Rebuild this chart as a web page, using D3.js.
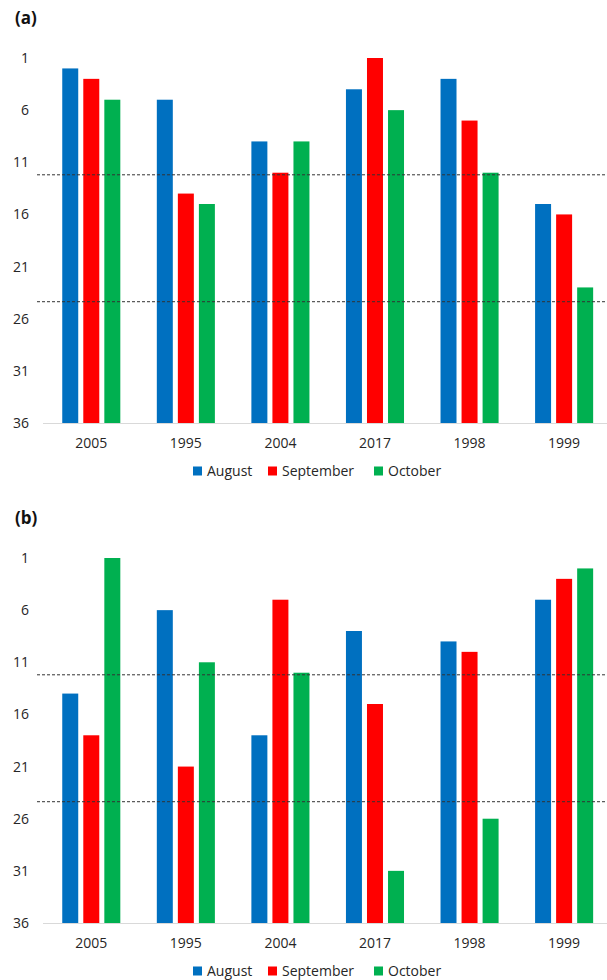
<!DOCTYPE html>
<html>
<head>
<meta charset="utf-8">
<script src="https://cdn.jsdelivr.net/npm/d3@7"></script>
<style>
  html, body { margin: 0; padding: 0; background: #fff; }
  svg { display: block; font-family: "Open Sans", "DejaVu Sans", sans-serif; }
</style>
</head>
<body>
<svg id="chart" width="607" height="980"></svg>
<script>
// ---- Data ----
const years = ["2005", "1995", "2004", "2017", "1998", "1999"];
const series = ["August", "September", "October"];
const colors = ["#0070C0", "#FF0000", "#00B050"];
const yTicks = [1, 6, 11, 16, 21, 26, 31, 36];
const thresholds = [12.2, 24.37];

// panel (a) ranks
const aAugust    = [2, 5, 9, 4, 3, 15];
const aSeptember = [3, 14, 12, 1, 7, 16];
const aOctober   = [5, 15, 9, 6, 12, 23];
// panel (b) ranks
const bAugust    = [14, 6, 18, 8, 9, 5];
const bSeptember = [18, 21, 5, 15, 10, 3];
const bOctober   = [1, 11, 12, 31, 26, 2];

const panels = [
  { label: "(a)", values: [aAugust, aSeptember, aOctober], top: 0 },
  { label: "(b)", values: [bAugust, bSeptember, bOctober], top: 500 }
];

// ---- Drawing ----
const svg = d3.select("#chart");
const textColor = "#262626";

const x0 = d3.scaleBand().domain(years).range([44, 611.4]).paddingInner(0.386).paddingOuter(0.193);
const x1 = d3.scaleBand().domain(series).range([0, x0.bandwidth()]).paddingInner(0.24).paddingOuter(0);
const color = d3.scaleOrdinal().domain(series).range(colors);

panels.forEach(p => {
  const g = svg.append("g").attr("transform", `translate(0,${p.top})`);
  const y = d3.scaleLinear().domain([1, 36]).range([58, 423]);

  // panel label
  g.append("text").attr("x", 15).attr("y", 24)
    .attr("font-size", 17).attr("font-weight", "bold").attr("fill", "#111")
    .text(p.label);

  // y axis labels (no line)
  const yAxis = d3.axisLeft(y).tickValues(yTicks).tickSize(0).tickPadding(0);
  const ya = g.append("g").attr("transform", "translate(29,0)").call(yAxis);
  ya.select(".domain").remove();
  ya.selectAll("text").attr("font-size", 14).attr("fill", textColor)
    .attr("font-family", "'Open Sans', sans-serif");

  // bars
  const rows = years.map((yr, i) => ({ year: yr, vals: series.map((s, j) => ({ s, v: p.values[j][i] })) }));
  const grp = g.selectAll(".grp").data(rows).join("g")
    .attr("transform", d => `translate(${x0(d.year)},0)`);
  grp.selectAll("rect").data(d => d.vals).join("rect")
    .attr("x", d => x1(d.s))
    .attr("width", x1.bandwidth())
    .attr("y", d => y(d.v))
    .attr("height", d => y(36) - y(d.v))
    .attr("fill", d => color(d.s));

  // x axis baseline
  g.append("line").attr("x1", 43).attr("x2", 607)
    .attr("y1", y(36) + 0.5).attr("y2", y(36) + 0.5)
    .attr("stroke", "#d9d9d9").attr("stroke-width", 1.2);

  // x axis labels
  const xAxis = d3.axisBottom(x0).tickSize(0).tickPadding(0);
  const xa = g.append("g").attr("transform", `translate(0,${y(36) + 15})`).call(xAxis);
  xa.select(".domain").remove();
  xa.selectAll("text").attr("font-size", 14).attr("fill", textColor)
    .attr("font-family", "'Open Sans', sans-serif");

  // dashed threshold lines
  g.selectAll(".thr").data(thresholds).join("line")
    .attr("x1", 37).attr("x2", 607)
    .attr("y1", d => y(d)).attr("y2", d => y(d))
    .attr("stroke", "#333").attr("stroke-width", 1)
    .attr("stroke-dasharray", "3,2");

  // legend
  const legendX = [193, 268, 374];
  const lg = g.selectAll(".leg").data(series).join("g")
    .attr("transform", (d, i) => `translate(${legendX[i]},471)`);
  lg.append("rect").attr("x", 0).attr("y", -4.5).attr("width", 9).attr("height", 9)
    .attr("fill", d => color(d));
  lg.append("text").attr("x", 14).attr("y", 0).attr("dy", "0.35em")
    .attr("font-size", 14).attr("fill", textColor).text(d => d);
});
</script>
</body>
</html>
